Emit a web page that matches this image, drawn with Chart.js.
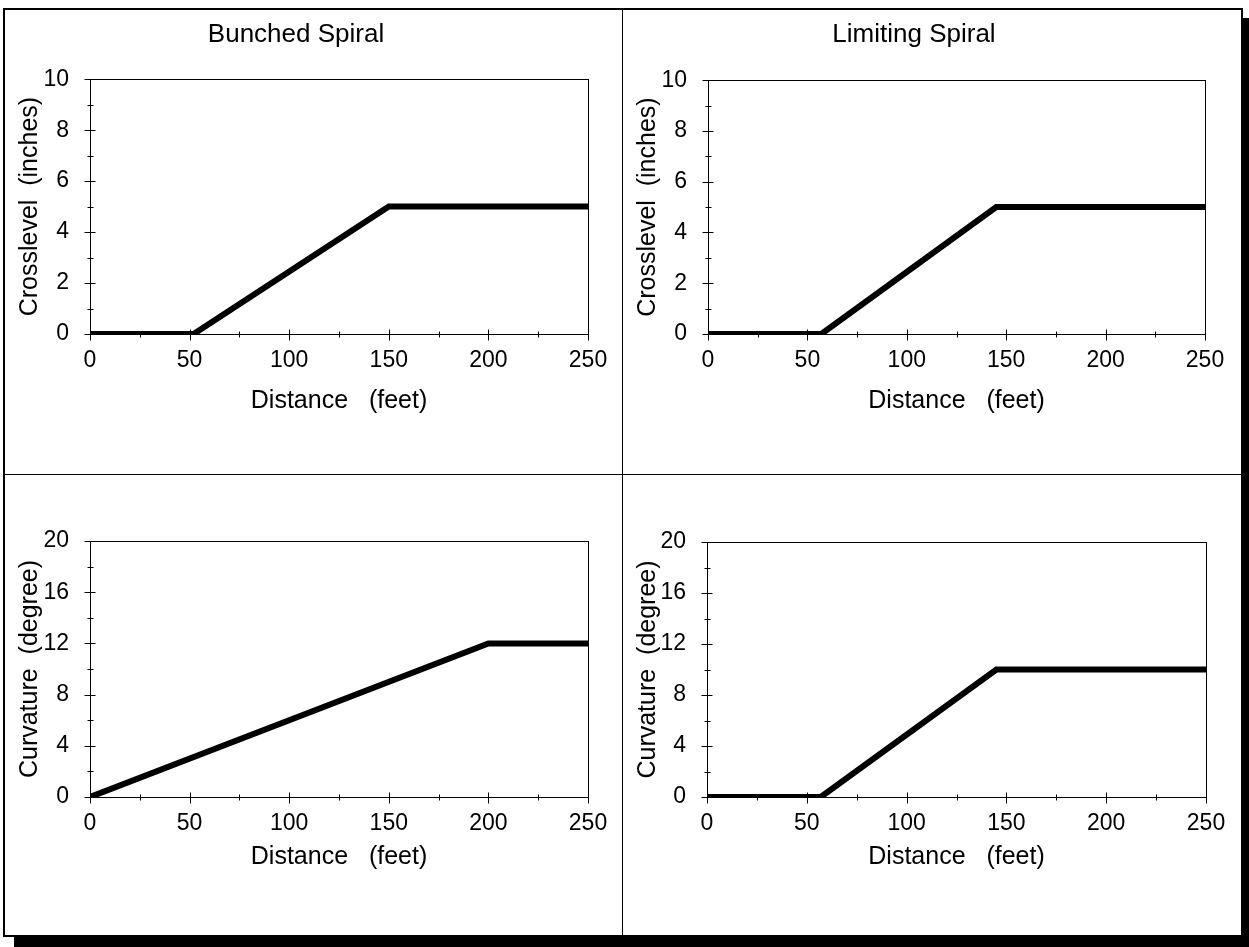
<!DOCTYPE html>
<html>
<head>
<meta charset="utf-8">
<script src="https://cdn.jsdelivr.net/npm/chart.js@4.4.1/dist/chart.umd.min.js"></script>
<style>
  html, body { margin:0; padding:0; background:#fff; }
  body { width:1249px; height:947px; position:relative; overflow:hidden; font-family:"Liberation Sans", Arial, sans-serif; }
  .frame { position:absolute; left:3px; top:8px; width:1236px; height:925px; border:2px solid #000; box-sizing:content-box; }
  .vdiv { position:absolute; left:622px; top:9px; width:1px; height:926px; background:#000; }
  .hdiv { position:absolute; left:4px; top:474px; width:1237px; height:1px; background:#000; }
  .shadowR { position:absolute; left:1241px; top:18px; width:8px; height:929px; background:#000; }
  .shadowB { position:absolute; left:14px; top:935px; width:1235px; height:12px; background:#000; }
  canvas { position:absolute; }
</style>
</head>
<body>
<div class="frame"></div>
<div class="vdiv"></div>
<div class="hdiv"></div>
<div class="shadowR"></div>
<div class="shadowB"></div>
<canvas id="c1" width="618" height="465" style="left:4px;top:9px"></canvas>
<canvas id="c2" width="617" height="465" style="left:623px;top:9px"></canvas>
<canvas id="c3" width="618" height="459" style="left:4px;top:475px"></canvas>
<canvas id="c4" width="617" height="459" style="left:623px;top:475px"></canvas>
<script>
// ---- data ----
const panelTitles = ["Bunched Spiral", "Limiting Spiral"];
const xAxisTitle = "Distance   (feet)";
const crossAxisTitle = "Crosslevel  (inches)";
const curvAxisTitle = "Curvature  (degree)";

const xTickValues = [0, 50, 100, 150, 200, 250];
const xMinorValues = [25, 75, 125, 175, 225];
const crossTickValues = [0, 2, 4, 6, 8, 10];
const crossMinorValues = [1, 3, 5, 7, 9];
const curvTickValues = [0, 4, 8, 12, 16, 20];
const curvMinorValues = [2, 6, 10, 14, 18];

const bunchedCrossDist = [0, 52, 150, 250];
const bunchedCrossVal  = [0, 0, 5, 5];
const limitingCrossDist = [0, 57, 145, 250];
const limitingCrossVal  = [0, 0, 5, 5];
const bunchedCurvDist = [0, 200, 250];
const bunchedCurvVal  = [0, 12, 12];
const limitingCurvDist = [0, 57, 145, 250];
const limitingCurvVal  = [0, 0, 10, 10];

const FONT = "'Liberation Sans', Arial, Helvetica, sans-serif";

const boxTicks = {
  id: 'boxTicks',
  beforeDatasetsDraw(chart, args, opts) {
    const ctx = chart.ctx, a = chart.chartArea;
    const xs = chart.scales.x, ys = chart.scales.y;
    ctx.save();
    ctx.strokeStyle = '#000';
    ctx.lineWidth = 1;
    ctx.strokeRect(Math.round(a.left) + 0.5, Math.round(a.top) + 0.5, Math.round(a.right - a.left), Math.round(a.bottom - a.top));
    ctx.beginPath();
    const bx = Math.round(a.left) + 0.5, by = Math.round(a.bottom) + 0.5;
    opts.yMajor.forEach(v => { const p = Math.round(ys.getPixelForValue(v)) + 0.5; ctx.moveTo(bx - 6, p); ctx.lineTo(bx + 5, p); });
    opts.yMinor.forEach(v => { const p = Math.round(ys.getPixelForValue(v)) + 0.5; ctx.moveTo(bx - 3, p); ctx.lineTo(bx + 3, p); });
    opts.xMajor.forEach(v => { const p = Math.round(xs.getPixelForValue(v)) + 0.5; ctx.moveTo(p, by - 5); ctx.lineTo(p, by + 6); });
    opts.xMinor.forEach(v => { const p = Math.round(xs.getPixelForValue(v)) + 0.5; ctx.moveTo(p, by - 3); ctx.lineTo(p, by + 3); });
    ctx.stroke();
    ctx.restore();
  }
};

function makePanel(id, p) {
  const pts = p.dist.map((d, i) => ({ x: d, y: p.vals[i] }));
  return new Chart(document.getElementById(id), {
    type: 'line',
    data: { datasets: [{ data: pts, borderColor: '#000', borderWidth: 6, pointRadius: 0, tension: 0,
      borderJoinStyle: 'miter', borderCapStyle: 'butt', fill: false }] },
    options: {
      responsive: false, animation: false, devicePixelRatio: 1,
      layout: { padding: { left: 0, right: p.padR, top: p.padT, bottom: p.padB } },
      plugins: {
        legend: { display: false }, tooltip: { enabled: false },
        title: p.title ? { display: true, text: p.title, color: '#000',
          font: { family: FONT, size: 26, weight: 'normal' }, padding: { top: 10, bottom: p.titlePadB } } : { display: false },
        boxTicks: { xMajor: xTickValues, xMinor: xMinorValues, yMajor: p.yTicks, yMinor: p.yMinor }
      },
      scales: {
        x: { type: 'linear', min: 0, max: 250,
          afterBuildTicks: s => { s.ticks = xTickValues.map(v => ({ value: v })); },
          afterFit: s => { s.height = p.xH; },
          grid: { display: false }, border: { display: false },
          ticks: { color: '#000', font: { family: FONT, size: 23 }, padding: 5, maxRotation: 0, autoSkip: false },
          title: { display: true, text: xAxisTitle, color: '#000', font: { family: FONT, size: 25 }, padding: { top: 0, bottom: 0 } } },
        y: { type: 'linear', min: 0, max: p.yMax,
          afterBuildTicks: s => { s.ticks = p.yTicks.map(v => ({ value: v })); },
          afterFit: s => { s.width = p.yW; },
          grid: { display: false }, border: { display: false },
          ticks: { color: '#000', font: { family: FONT, size: 23 }, padding: 13, autoSkip: false },
          title: { display: true, text: p.yTitle, color: '#000', font: { family: FONT, size: 25 }, padding: { top: p.yTitlePad, bottom: 0 } } }
      }
    },
    plugins: [boxTicks]
  });
}

makePanel('c1', { dist: bunchedCrossDist, vals: bunchedCrossVal, title: panelTitles[0], yMax: 10,
  yTicks: crossTickValues, yMinor: crossMinorValues, yTitle: crossAxisTitle,
  padR: 34, padT: 0, padB: 58, titlePadB: 29, yW: 86, yTitlePad: 11, xH: 82 });
makePanel('c2', { dist: limitingCrossDist, vals: limitingCrossVal, title: panelTitles[1], yMax: 10,
  yTicks: crossTickValues, yMinor: crossMinorValues, yTitle: crossAxisTitle,
  padR: 35, padT: 0, padB: 58, titlePadB: 30, yW: 85, yTitlePad: 10, xH: 82 });
makePanel('c3', { dist: bunchedCurvDist, vals: bunchedCurvVal, title: null, yMax: 20,
  yTicks: curvTickValues, yMinor: curvMinorValues, yTitle: curvAxisTitle,
  padR: 34, padT: 66, padB: 62, titlePadB: 0, yW: 86, yTitlePad: 11, xH: 75 });
makePanel('c4', { dist: limitingCurvDist, vals: limitingCurvVal, title: null, yMax: 20,
  yTicks: curvTickValues, yMinor: curvMinorValues, yTitle: curvAxisTitle,
  padR: 34, padT: 67, padB: 62, titlePadB: 0, yW: 84, yTitlePad: 10, xH: 75 });
</script>
</body>
</html>
